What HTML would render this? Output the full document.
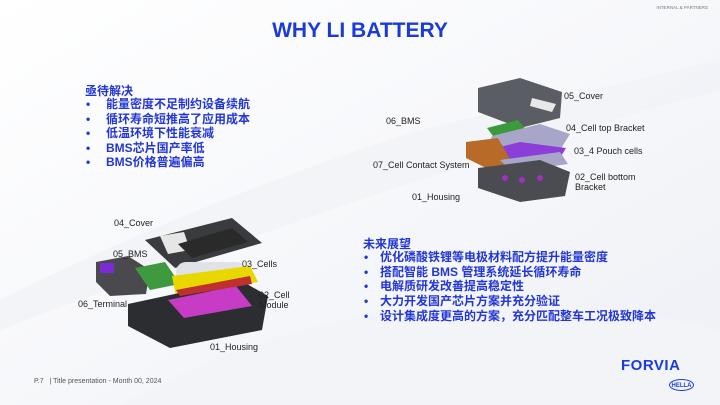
<!DOCTYPE html>
<html><head><meta charset="utf-8"><style>
body{margin:0;width:720px;height:405px;overflow:hidden;background:#fff;font-family:"Liberation Sans","Noto Sans CJK SC",sans-serif;position:relative}
.t{position:absolute;white-space:nowrap}
.lab{position:absolute;font-size:9px;color:#222;white-space:nowrap}
.cn{position:absolute;color:#2236d6;font-weight:bold;font-size:12px;white-space:nowrap;font-family:"Liberation Sans","Noto Sans CJK SC",sans-serif}
</style></head><body>
<svg width="720" height="405" style="position:absolute;left:0;top:0">
<defs><linearGradient id="bg" x1="0" y1="0" x2="1" y2="1"><stop offset="0" stop-color="#fff"/><stop offset="1" stop-color="#eef0f6"/></linearGradient></defs>
<rect width="720" height="405" fill="url(#bg)"/>
<path d="M0 300 Q200 200 420 130 L720 60 L720 90 Q420 170 0 330Z" fill="#f1f3f8" opacity=".8"/>
<path d="M120 405 Q400 250 720 330 L720 405Z" fill="#f3f4f8"/>
<!-- top-right battery -->
<polygon points="478,88 520,78 562,92 560,118 520,128 478,112" fill="#5a5d63"/>
<polygon points="532,98 556,104 552,112 530,106" fill="#e8e8e8"/>
<polygon points="487,128 518,120 528,132 496,140" fill="#3c9a3c"/>
<polygon points="492,136 540,124 570,134 560,150 508,158 488,146" fill="#a8a6c8"/>
<polygon points="496,148 520,142 566,148 560,158 510,162" fill="#8b3fd8"/>
<polygon points="466,142 498,138 516,170 490,170 466,158" fill="#b86a28"/>
<polygon points="500,160 560,152 568,164 512,172" fill="#a8a6c8"/>
<polygon points="478,168 540,160 570,172 565,196 520,202 478,188" fill="#4a4c52"/>
<circle cx="505" cy="178" r="3" fill="#a030c0"/><circle cx="522" cy="180" r="3" fill="#a030c0"/><circle cx="540" cy="178" r="3" fill="#a030c0"/>
<!-- bottom-left battery -->
<polygon points="145,240 232,218 262,243 175,268" fill="#3a3b3e"/>
<polygon points="160,236 184,232 190,250 168,254" fill="#e6e6e6"/>
<polygon points="178,244 232,228 248,242 192,258" fill="#2a2a2a"/>
<polygon points="96,262 128,256 150,270 146,294 110,296 96,282" fill="#4a4a4e"/>
<rect x="100" y="263" width="14" height="10" fill="#7a2bd6"/>
<polygon points="135,268 165,262 180,284 150,290" fill="#3f9a3f"/>
<rect x="176" y="262" width="70" height="20" rx="10" fill="#e0e2e8"/>
<polygon points="172,276 250,266 258,282 176,296" fill="#e8d800"/>
<polygon points="128,304 240,280 268,296 262,330 170,348 128,326" fill="#2c2d30"/>
<polygon points="168,300 236,286 252,306 184,318" fill="#c63cc4"/>
<polygon points="176,290 250,276 252,284 180,296" fill="#c03030"/>
</svg>
<div class="t" style="right:12px;top:5px;font-size:4.5px;color:#777">INTERNAL &amp; PARTNERS</div>
<div class="t" style="left:0;width:720px;text-align:center;top:19px;font-size:21px;font-weight:bold;color:#1a3bd8">WHY LI BATTERY</div>
<div class="cn" style="left:85px;top:82px">亟待解决</div>
<div class="cn" style="left:86px;top:97px;line-height:14.5px">•<br>•<br>•<br>•<br>•</div>
<div class="cn" style="left:106px;top:97px;line-height:14.5px">能量密度不足制约设备续航<br>循环寿命短推高了应用成本<br>低温环境下性能衰减<br>BMS芯片国产率低<br>BMS价格普遍偏高</div>
<div class="cn" style="left:363px;top:235px">未来展望</div>
<div class="cn" style="left:364px;top:250px;line-height:14.7px">•<br>•<br>•<br>•<br>•</div>
<div class="cn" style="left:380px;top:250px;line-height:14.7px">优化磷酸铁锂等电极材料配方提升能量密度<br>搭配智能 BMS 管理系统延长循环寿命<br>电解质研发改善提高稳定性<br>大力开发国产芯片方案并充分验证<br>设计集成度更高的方案，充分匹配整车工况极致降本</div>
<div class="lab" style="left:564px;top:91px">05_Cover</div>
<div class="lab" style="left:566px;top:123px">04_Cell top Bracket</div>
<div class="lab" style="left:574px;top:146px">03_4 Pouch cells</div>
<div class="lab" style="left:575px;top:172px;line-height:10px">02_Cell bottom<br>Bracket</div>
<div class="lab" style="left:386px;top:116px">06_BMS</div>
<div class="lab" style="left:373px;top:160px">07_Cell Contact System</div>
<div class="lab" style="left:412px;top:192px">01_Housing</div>
<div class="lab" style="left:114px;top:218px">04_Cover</div>
<div class="lab" style="left:113px;top:249px">05_BMS</div>
<div class="lab" style="left:242px;top:259px">03_Cells</div>
<div class="lab" style="left:259px;top:290px;line-height:10px">02_Cell<br>Module</div>
<div class="lab" style="left:78px;top:299px">06_Terminal</div>
<div class="lab" style="left:210px;top:342px">01_Housing</div>
<div class="t" style="left:34px;top:378px;font-size:7px;color:#555">P.7 &nbsp; | Title presentation - Month 00, 2024</div>
<div class="t" style="left:621px;top:357px;font-size:15px;font-weight:bold;color:#1a3bd8;letter-spacing:.5px">FORVIA</div>
<div class="t" style="left:669px;top:379px;width:25px;height:12px;border:1.5px solid #1a3bd8;border-radius:50%;font-size:6px;font-weight:bold;color:#1a3bd8;text-align:center;line-height:12px;box-sizing:border-box">HELLA</div>
</body></html>
